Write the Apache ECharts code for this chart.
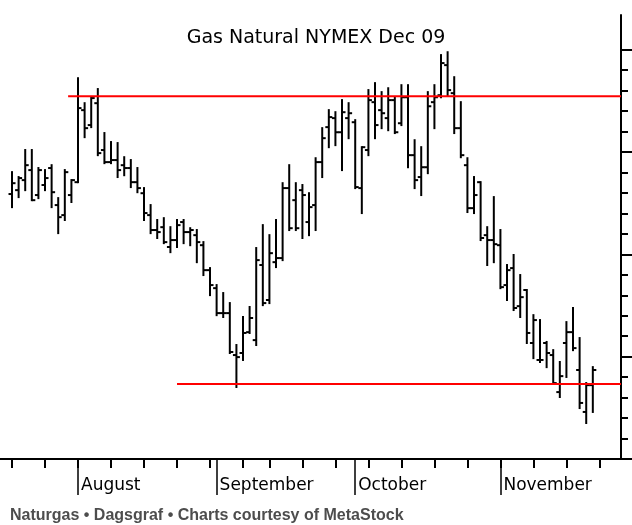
<!DOCTYPE html>
<html>
<head>
<meta charset="utf-8">
<title>Gas Natural NYMEX Dec 09</title>
<script src="https://cdn.jsdelivr.net/npm/echarts@6.0.0/dist/echarts.min.js"></script>
<style>
	html,body{margin:0;padding:0;background:#fff;}
	#echarts_box{width:632px;height:525px;}
</style>
</head>
<body>
<div id="echarts_box"></div>
<script>
	// daily bars, trading day index 0 = 20 July 2009
	var opens=[5.295,5.314,5.363,5.412,5.290,5.339,5.422,5.241,5.192,5.290,
		5.353,5.705,5.632,5.739,5.510,5.451,5.461,5.436,5.422,5.353,
		5.299,5.192,5.119,5.133,5.036,5.070,5.158,5.109,5.094,5.045,
		4.923,4.835,4.713,4.713,4.508,4.518,4.620,4.581,4.948,4.777,
		4.962,4.982,5.324,5.265,5.314,5.158,5.241,5.451,5.622,5.666,
		5.597,5.666,5.646,5.324,5.510,5.744,5.705,5.666,5.754,5.641,
		5.768,5.485,5.378,5.426,5.744,5.778,5.925,5.788,5.617,5.436,
		5.226,5.353,5.094,5.070,5.045,4.850,4.933,4.747,4.826,4.567,
		4.484,4.567,4.508,4.327,4.567,4.620,4.435,4.230,4.361];
	var highs=[5.402,5.378,5.510,5.510,5.422,5.412,5.436,5.275,5.412,5.363,
		5.861,5.739,5.768,5.808,5.593,5.549,5.544,5.475,5.461,5.422,
		5.324,5.241,5.168,5.177,5.133,5.168,5.168,5.128,5.119,5.060,
		4.933,4.850,4.811,4.762,4.557,4.694,4.743,5.031,5.143,5.094,
		5.168,5.348,5.436,5.348,5.339,5.299,5.470,5.617,5.705,5.695,
		5.754,5.739,5.656,5.524,5.803,5.837,5.793,5.812,5.768,5.827,
		5.827,5.558,5.524,5.793,5.827,5.974,5.988,5.866,5.744,5.470,
		5.378,5.353,5.133,5.280,5.119,4.948,4.997,4.899,4.826,4.703,
		4.679,4.572,4.532,4.474,4.669,4.738,4.591,4.371,4.449];
	var lows=[5.231,5.280,5.314,5.265,5.275,5.314,5.231,5.104,5.168,5.256,
		5.353,5.573,5.622,5.485,5.446,5.446,5.378,5.387,5.329,5.304,
		5.168,5.104,5.080,5.055,5.011,5.036,5.055,5.045,4.962,4.899,
		4.801,4.703,4.694,4.518,4.352,4.484,4.616,4.557,4.752,4.762,
		4.938,4.972,5.119,5.119,5.080,5.094,5.119,5.378,5.524,5.534,
		5.412,5.568,5.324,5.202,5.485,5.568,5.617,5.607,5.593,5.632,
		5.426,5.324,5.290,5.397,5.617,5.768,5.778,5.593,5.475,5.207,
		5.202,5.070,4.948,4.962,4.835,4.777,4.728,4.694,4.567,4.493,
		4.474,4.449,4.371,4.303,4.401,4.532,4.249,4.176,4.230];
	var closes=[5.348,5.373,5.436,5.265,5.412,5.373,5.304,5.182,5.402,5.363,
		5.715,5.617,5.764,5.495,5.451,5.461,5.412,5.422,5.353,5.324,
		5.202,5.119,5.109,5.060,5.070,5.143,5.109,5.119,5.060,4.923,
		4.850,4.713,4.713,4.523,4.498,4.616,4.689,4.972,4.762,5.006,
		4.982,5.324,5.128,5.128,5.290,5.231,5.451,5.568,5.671,5.597,
		5.695,5.690,5.329,5.524,5.754,5.632,5.690,5.754,5.597,5.768,
		5.485,5.363,5.426,5.724,5.768,5.935,5.803,5.617,5.485,5.226,
		5.290,5.080,5.070,5.050,4.840,4.923,4.738,4.791,4.616,4.679,
		4.484,4.518,4.371,4.405,4.620,4.542,4.274,4.361,4.435];

	// x axis: weekly ticks and month starts (trading day index)
	var weekTicks=[0,5,10,15,20,25,30,35,39,44,49,54,59,64,69,74,79,84,89];
	var monthTicks=[10,31,52,74];
	var monthNames=['August','September','October','November'];

	// y axis ticks (price)
	var majorTicks=[4.0,4.5,5.0,5.5,6.0];
	var minorTicks=[];
	for(var t=40;t<=60;t++){ minorTicks.push(t/10); }

	// support / resistance lines: start day and level
	var trendStart=[8.5,25];
	var trendLevel=[5.773,4.366];

	var xMin=-1.82, xMax=92.27;
	var yMin=4.0, yMax=6.17;

	var barData=[];
	for(var i=0;i<opens.length;i++){
		barData.push([i,opens[i],highs[i],lows[i],closes[i]]);
	}

	function renderOhlc(params,api){
		var x=api.coord([api.value(0),api.value(2)])[0];
		var yO=api.coord([api.value(0),api.value(1)])[1];
		var yH=api.coord([api.value(0),api.value(2)])[1];
		var yL=api.coord([api.value(0),api.value(3)])[1];
		var yC=api.coord([api.value(0),api.value(4)])[1];
		var st={stroke:'#000',lineWidth:2};
		return {
			type:'group',
			children:[
				{type:'line',shape:{x1:x,y1:yH-1,x2:x,y2:yL+1},style:st},
				{type:'line',shape:{x1:x-3.5,y1:yO,x2:x,y2:yO},style:st},
				{type:'line',shape:{x1:x,y1:yC,x2:x+3.5,y2:yC},style:st}
			]
		};
	}

	var series=[{
		type:'custom',
		renderItem:renderOhlc,
		encode:{x:0,y:[1,2,3,4]},
		data:barData,
		z:2
	}];
	for(var k=0;k<trendStart.length;k++){
		series.push({
			type:'line',
			symbol:'none',
			data:[[trendStart[k],trendLevel[k]],[xMax,trendLevel[k]]],
			lineStyle:{color:'#ff0000',width:2},
			z:3
		});
	}

	var myChart=echarts.init(document.getElementById('echarts_box'));
	var option={
		animation:false,
		backgroundColor:'#fff',
		title:[
			{
				text:'Gas Natural NYMEX Dec 09',
				left:'center',
				top:24,
				textStyle:{fontFamily:'DejaVu Sans',fontSize:19,fontWeight:'normal',color:'#000'}
			},
			{
				text:'Naturgas • Dagsgraf • Charts courtesy of MetaStock',
				left:5,
				top:503,
				textStyle:{fontFamily:'Liberation Sans',fontSize:16,fontWeight:'bold',color:'#4d4d4d'}
			}
		],
		grid:{left:0,right:11,top:15,bottom:66},
		xAxis:[
			{
				type:'value',
				position:'bottom',
				min:xMin,max:xMax,
				axisLine:{show:true,onZero:false,lineStyle:{color:'#000',width:2}},
				axisTick:{show:true,customValues:weekTicks,length:9,lineStyle:{color:'#000',width:2}},
				axisLabel:{show:false},
				splitLine:{show:false}
			},
			{
				type:'value',
				position:'bottom',
				min:xMin,max:xMax,
				axisLine:{show:false,onZero:false},
				axisTick:{show:true,customValues:monthTicks,length:36,lineStyle:{color:'#000',width:1.5}},
				axisLabel:{
					show:true,
					customValues:monthTicks,
					align:'left',
					margin:18,
					padding:[0,0,0,3],
					fontFamily:'DejaVu Sans',
					fontSize:17,
					color:'#000',
					formatter:function(v){
						return monthNames[monthTicks.indexOf(Math.round(v))];
					}
				},
				splitLine:{show:false}
			}
		],
		yAxis:[
			{
				type:'value',
				position:'right',
				min:yMin,max:yMax,
				axisLine:{show:true,onZero:false,lineStyle:{color:'#000',width:2}},
				axisTick:{show:true,customValues:minorTicks,length:7,lineStyle:{color:'#000',width:2}},
				axisLabel:{show:false},
				splitLine:{show:false}
			},
			{
				type:'value',
				position:'right',
				min:yMin,max:yMax,
				axisLine:{show:false,onZero:false},
				axisTick:{show:true,customValues:majorTicks,length:11,lineStyle:{color:'#000',width:2}},
				axisLabel:{show:false},
				splitLine:{show:false}
			}
		],
		series:series
	};
	myChart.setOption(option);
</script>
</body>
</html>
